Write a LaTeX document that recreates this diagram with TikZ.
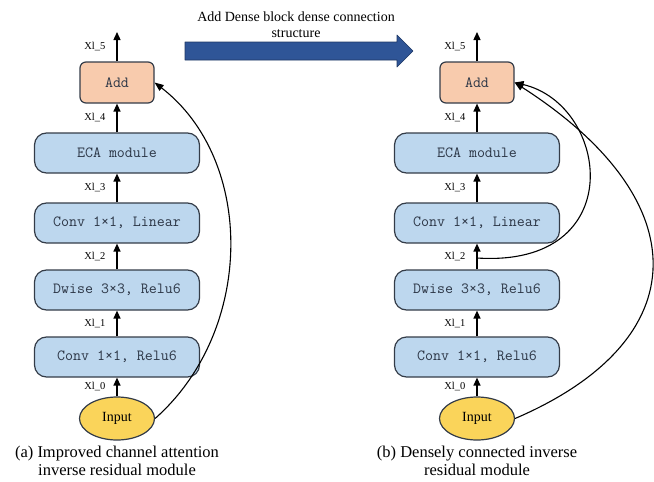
\documentclass[tikz,border=0pt]{standalone}
\usepackage{fontspec}
\setmainfont{Liberation Serif}
\usetikzlibrary{arrows.meta,shapes.geometric}
\definecolor{boxblue}{RGB}{189,215,238}
\definecolor{addorange}{RGB}{248,203,173}
\definecolor{inyellow}{RGB}{250,212,90}
\definecolor{edgegray}{RGB}{52,60,72}
\definecolor{textgray}{RGB}{44,54,70}
\definecolor{arrowblue}{RGB}{47,85,151}
\definecolor{arrowedge}{RGB}{31,56,100}

\begin{document}
\begin{tikzpicture}[x=1pt,y=-1pt,line join=round,
    block/.style={draw=edgegray,line width=1.2pt,fill=boxblue,rounded corners=12pt,
      minimum width=165pt,minimum height=40pt,text=textgray,
      font=\ttfamily\fontsize{15.5}{17}\selectfont},
    addblock/.style={block,fill=addorange,rounded corners=6pt,minimum width=74pt,minimum height=41pt},
    inblock/.style={draw=edgegray,line width=1.2pt,fill=inyellow,ellipse,inner sep=0pt,
      minimum width=75pt,minimum height=43pt,font=\fontsize{14}{16}\selectfont},
    flow/.style={-{Triangle[length=8pt,width=7pt]},line width=1.3pt},
    shortcut/.style={-{Triangle[length=9pt,width=7pt]},line width=1.1pt},
    xlab/.style={left=11pt,inner sep=0pt,font=\fontsize{10.5}{12}\selectfont},
    captext/.style={align=center,font=\fontsize{16.5}{18}\selectfont}]
    \useasboundingbox (0,0) rectangle (654,482);
    % big arrow between the two modules
    \fill[arrowblue,draw=arrowedge,line width=0.6pt](185,42)--(397,42)--(397,35)--(413,51)--(397,67)--(397,60)--(185,60)--cycle;
    \node[font=\fontsize{14}{16}\selectfont,align=center] (note) at (296,25) {Add Dense block dense connection\\structure};
    \begin{scope}[shift={(0,0)}]
      \node[addblock] (add1) at (117,82.5) {Add};
      \node[block] (eca1) at (117,153) {ECA module};
      \node[block] (lin1) at (117,223) {Conv 1×1, Linear};
      \node[block] (dw1) at (117,290) {Dwise 3×3, Relu6};
      \node[block] (rel1) at (117,357) {Conv 1×1, Relu6};
      \node[inblock] (in1) at (117,418.5) {Input};
      \coordinate (out1) at (117,32);
      \draw[flow](in1)--node[xlab]{Xl\_0}(rel1);
      \draw[flow](rel1)--node[xlab]{Xl\_1}(dw1);
      \draw[flow](dw1)--node[xlab]{Xl\_2}(lin1);
      \draw[flow](lin1)--node[xlab]{Xl\_3}(eca1);
      \draw[flow](eca1)--node[xlab]{Xl\_4}(add1);
      \draw[flow](add1)--node[xlab]{Xl\_5}(out1);
      \draw[shortcut](in1.east) .. controls (255,330) and (255,160) .. (add1.east);
      \node[captext] (cap1) at (117,461) {(a) Improved channel attention\\inverse residual module};
    \end{scope}
    \begin{scope}[shift={(360,0)}]
      \node[addblock] (add2) at (117,82.5) {Add};
      \node[block] (eca2) at (117,153) {ECA module};
      \node[block] (lin2) at (117,223) {Conv 1×1, Linear};
      \node[block] (dw2) at (117,290) {Dwise 3×3, Relu6};
      \node[block] (rel2) at (117,357) {Conv 1×1, Relu6};
      \node[inblock] (in2) at (117,418.5) {Input};
      \coordinate (out2) at (117,32);
      \coordinate (tap2) at (117,258);
      \draw[flow](in2)--node[xlab]{Xl\_0}(rel2);
      \draw[flow](rel2)--node[xlab]{Xl\_1}(dw2);
      \draw[flow](dw2)--node[xlab]{Xl\_2}(lin2);
      \draw[flow](lin2)--node[xlab]{Xl\_3}(eca2);
      \draw[flow](eca2)--node[xlab]{Xl\_4}(add2);
      \draw[flow](add2)--node[xlab]{Xl\_5}(out2);
      \draw[shortcut](tap2) .. controls (270,268) and (250,105) .. (add2.east);
      \draw[shortcut](in2.east) .. controls (338,340) and (338,200) .. (add2.east);
      \node[captext] (cap2) at (117,461) {(b) Densely connected inverse\\residual module};
    \end{scope}
  \end{tikzpicture}
\end{document}
